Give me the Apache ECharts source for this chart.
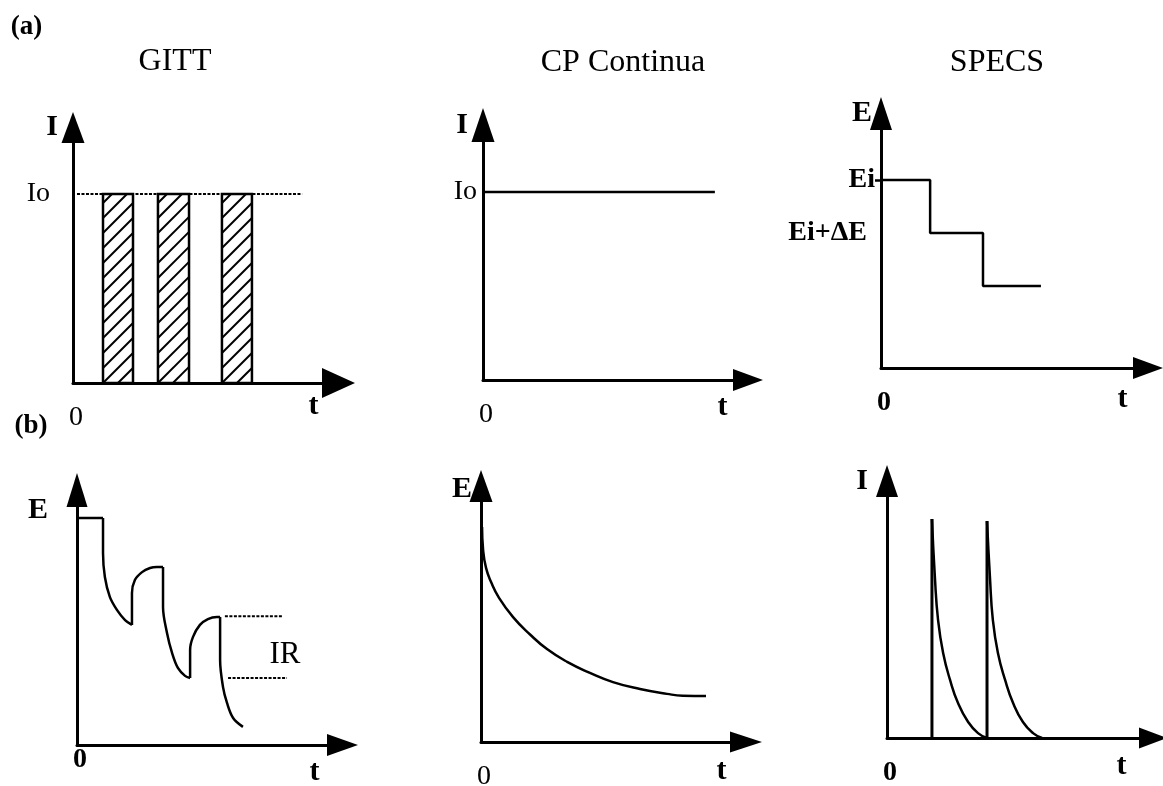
<!DOCTYPE html>
<html>
<head>
<meta charset="utf-8">
<script src="https://cdn.jsdelivr.net/npm/echarts@6/dist/echarts.min.js"></script>
<style>
  html, body { margin: 0; padding: 0; background: #fff; }
  #chart { width: 1163px; height: 786px; }
</style>
</head>
<body>
<div id="chart"></div>
<script>
// ---- Data (arbitrary time / signal units, every panel spans 0..10 on both axes) ----

// GITT (a): current pulses of amplitude Io
const gittPulseStart = [1.13, 3.20, 5.61];
const gittPulseEnd   = [2.26, 4.37, 6.74];
const gittIo = 7.40;
const gittIoGuide = [0.15, 8.63];

// CP continua (a): constant current Io
const cpIo = 7.37;
const cpIoSpan = [0, 8.75];

// SPECS (a): potential staircase Ei, Ei+dE, ...
const specsStepT = [0, 1.84, 3.82, 5.99];
const specsStepE = [7.39, 5.30, 3.22, 3.22];

// GITT (b): potential response, piece by piece
const gittRest0  = [[0, 8.90], [0.98, 8.90]];
const gittPulse1 = [[0.98, 8.90], [0.98, 7.53], [1.05, 6.59], [1.24, 5.80], [1.51, 5.29], [1.81, 4.90], [2.07, 4.71]];
const gittRelax1 = [[2.07, 4.71], [2.07, 5.96], [2.18, 6.47], [2.45, 6.78], [2.75, 6.94], [3.01, 6.98], [3.24, 6.98]];
const gittPulse2 = [[3.24, 6.98], [3.24, 5.41], [3.39, 4.39], [3.58, 3.61], [3.80, 3.02], [4.07, 2.71], [4.26, 2.63]];
const gittRelax2 = [[4.26, 2.63], [4.26, 3.73], [4.37, 4.24], [4.63, 4.71], [4.93, 4.94], [5.27, 5.02], [5.39, 5.02]];
const gittPulse3 = [[5.39, 5.02], [5.39, 3.33], [5.50, 2.27], [5.65, 1.65], [5.88, 1.06], [6.25, 0.71]];
const irUpper = [[5.57, 5.05], [7.76, 5.05]];
const irLower = [[5.69, 2.63], [7.91, 2.63]];
const irLabelAt = [7.83, 3.53];

// CP continua (b): potential decay
const cpE = [[0.04, 8.40], [0.08, 7.50], [0.19, 6.80], [0.38, 6.25], [0.68, 5.63], [1.21, 4.88],
             [1.85, 4.20], [2.49, 3.63], [3.25, 3.13], [4.11, 2.70], [4.98, 2.34], [6.00, 2.07],
             [7.02, 1.88], [7.62, 1.81], [8.49, 1.80]];

// SPECS (b): current spikes and their decays
const specsSpikeT = [1.69, 3.76];
const specsSpikePeak = [8.52, 8.44];
const specsDecay1 = [[1.69, 8.52], [1.80, 6.26], [1.92, 4.59], [2.11, 3.31], [2.37, 2.26], [2.67, 1.36], [3.05, 0.62], [3.42, 0.19], [3.76, 0]];
const specsDecay2 = [[3.76, 8.44], [3.87, 6.26], [3.98, 4.59], [4.17, 3.31], [4.44, 2.26], [4.74, 1.36], [5.11, 0.62], [5.49, 0.19], [5.83, 0]];

// Text
const titles = ['GITT', 'CP Continua', 'SPECS'];
const rowTags = ['(a)', '(b)'];
const yNames = ['I', 'I', 'E', 'E', 'E', 'I'];
const xName = 't';
const originLabel = '0';

// ---- Layout ----
const FONT = '"Liberation Serif", "Times New Roman", serif';
const INK = '#000';

const layout = [
  { left: 73,  top: 127.5, width: 265.5, height: 255.5, xs: [30, 33], ys: [23, 31], tGap: -25,   tPad: 47, namePad: [0, 15],  zeroMargin: 20.5, zeroWeight: 'normal' },
  { left: 483, top: 125,   width: 265,   height: 255,   xs: [22, 30], ys: [23, 34], tGap: -25.5, tPad: 55, namePad: [0, 15],  zeroMargin: 21,   zeroWeight: 'normal' },
  { left: 881, top: 113.5, width: 267,   height: 254.5, xs: [22, 30], ys: [22, 33], tGap: -25.5, tPad: 62, namePad: [0, 9],   zeroMargin: 21,   zeroWeight: 'bold' },
  { left: 77,  top: 490,   width: 265.5, height: 255,   xs: [22, 31], ys: [21, 34], tGap: -28,   tPad: 55, namePad: [40, 29], zeroMargin: 1,    zeroWeight: 'bold' },
  { left: 481, top: 486,   width: 265,   height: 256,   xs: [21, 32], ys: [23, 32], tGap: -24.5, tPad: 59, namePad: [6, 9],   zeroMargin: 21,   zeroWeight: 'normal' },
  { left: 887, top: 481,   width: 266,   height: 257,   xs: [21, 28], ys: [22, 32], tGap: -31.5, tPad: 56, namePad: [0, 19],  zeroMargin: 21,   zeroWeight: 'bold' }
];

// level labels on the potential / current axes
const levelLabels = [
  { values: [gittIo], texts: ['Io'], margin: 23, weight: 'normal' },
  { values: [cpIo], texts: ['Io'], margin: 6, weight: 'normal' },
  { values: [specsStepE[0], specsStepE[1]], texts: ['Ei', '{w|Ei+ΔE}'], margin: 6, weight: 'bold' },
  null, null, null
];

const nameFont = { color: INK, fontFamily: FONT, fontSize: 30, fontWeight: 'bold' };

const grids = layout.map(p => ({
  left: p.left, top: p.top, width: p.width, height: p.height,
  containLabel: false, outerBoundsMode: 'none'
}));

const xAxes = layout.map((p, i) => ({
  type: 'value', gridIndex: i, min: 0, max: 10,
  axisLine: { show: true, onZero: false, symbol: ['none', 'triangle'], symbolSize: p.xs,
              lineStyle: { color: INK, width: 3 } },
  axisTick: { show: false },
  splitLine: { show: false },
  axisLabel: {
    show: true, customValues: [0], margin: p.zeroMargin,
    formatter: v => (v === 0 ? originLabel : ''),
    color: INK, fontFamily: FONT, fontSize: 28, fontWeight: p.zeroWeight,
    padding: [0, 0, 0, 6]
  },
  name: '{n|' + xName + '}', nameLocation: 'end', nameGap: p.tGap, nameMoveOverlap: false,
  nameTextStyle: Object.assign({ align: 'center', verticalAlign: 'middle',
    rich: { n: Object.assign({ padding: [p.tPad, 0, 0, 0] }, nameFont) } }, nameFont)
}));

const yAxes = layout.map((p, i) => {
  const lv = levelLabels[i];
  return {
    type: 'value', gridIndex: i, min: 0, max: 10,
    axisLine: { show: true, onZero: false, symbol: ['none', 'triangle'], symbolSize: p.ys,
                lineStyle: { color: INK, width: 3 } },
    axisTick: i === 2
      ? { show: true, customValues: [specsStepE[0]], length: 6, lineStyle: { color: INK, width: 2.5 } }
      : { show: false },
    splitLine: { show: false },
    axisLabel: lv ? {
      show: true, customValues: lv.values, margin: lv.margin,
      formatter: v => {
        const k = lv.values.findIndex(x => Math.abs(x - v) < 1e-6);
        return k >= 0 ? lv.texts[k] : '';
      },
      color: INK, fontFamily: FONT, fontSize: 28, fontWeight: lv.weight,
      rich: { w: { fontFamily: FONT, fontSize: 28, fontWeight: 'bold', color: INK, padding: [0, 8, 0, 0] } }
    } : { show: false },
    name: '{n|' + yNames[i] + '}', nameLocation: 'end', nameGap: 0, nameMoveOverlap: false,
    nameTextStyle: Object.assign({ align: 'right', verticalAlign: 'middle',
      rich: { n: Object.assign({ padding: [p.namePad[0], p.namePad[1], 0, 0] }, nameFont) } }, nameFont)
  };
});

function line(panel, data, extra) {
  return Object.assign({
    type: 'line', xAxisIndex: panel, yAxisIndex: panel, data,
    showSymbol: false, symbol: 'none', clip: false, silent: true,
    lineStyle: { color: INK, width: 2.5 }
  }, extra || {});
}
const smooth = { smooth: 0.5 };
const dotted = { lineStyle: { color: INK, width: 2, type: [3, 1.5] } };

// hatched pulse rectangles
function hatchedPulse(params, api) {
  const a = api.coord([api.value(0), api.value(2)]);
  const b = api.coord([api.value(1), 0]);
  const x0 = a[0], y0 = a[1], x1 = b[0], y1 = b[1];
  const step = 15;
  const children = [];
  for (let c = x0 + y0 + step * 0.6; c < x1 + y1; c += step) {
    const xa = Math.max(x0, c - y1), xb = Math.min(x1, c - y0);
    if (xb > xa) {
      children.push({ type: 'line', shape: { x1: xa, y1: c - xa, x2: xb, y2: c - xb },
                      style: { stroke: INK, lineWidth: 2 } });
    }
  }
  children.push({ type: 'rect', shape: { x: x0, y: y0, width: x1 - x0, height: y1 - y0 },
                  style: { fill: 'none', stroke: INK, lineWidth: 2.5 } });
  return { type: 'group', children };
}

const series = [
  // GITT (a)
  line(0, [[gittIoGuide[0], gittIo], [gittIoGuide[1], gittIo]], dotted),
  {
    type: 'custom', xAxisIndex: 0, yAxisIndex: 0, silent: true, clip: false,
    data: gittPulseStart.map((s, k) => [s, gittPulseEnd[k], gittIo]),
    encode: { x: [0, 1], y: 2 },
    renderItem: hatchedPulse
  },
  // CP continua (a)
  line(1, [[cpIoSpan[0], cpIo], [cpIoSpan[1], cpIo]]),
  // SPECS (a)
  line(2, specsStepT.map((t, k) => [t, specsStepE[k]]), { step: 'end' }),
  // GITT (b)
  line(3, gittRest0),
  line(3, gittPulse1, { smooth: 0.35 }),
  line(3, gittRelax1, { smooth: 0.35 }),
  line(3, gittPulse2, { smooth: 0.35 }),
  line(3, gittRelax2, { smooth: 0.35 }),
  line(3, gittPulse3, { smooth: 0.35 }),
  line(3, irUpper, dotted),
  line(3, irLower, dotted),
  {
    type: 'scatter', xAxisIndex: 3, yAxisIndex: 3, silent: true, clip: false,
    data: [irLabelAt], symbolSize: 1, itemStyle: { color: 'transparent', opacity: 1 },
    label: { show: true, position: 'inside', formatter: 'IR', color: INK, opacity: 1,
             fontFamily: FONT, fontSize: 31 }
  },
  // CP continua (b)
  line(4, cpE, smooth),
  // SPECS (b)
  line(5, [[specsSpikeT[0], 0], [specsSpikeT[0], specsSpikePeak[0]]], { lineStyle: { color: INK, width: 3 } }),
  line(5, [[specsSpikeT[1], 0], [specsSpikeT[1], specsSpikePeak[1]]], { lineStyle: { color: INK, width: 3 } }),
  line(5, specsDecay1, smooth),
  line(5, specsDecay2, smooth)
];

const textStyleBase = { fill: INK, fontFamily: FONT, align: 'center', verticalAlign: 'middle' };
const graphic = [
  { type: 'text', x: 175, y: 62,  style: Object.assign({ text: titles[0], fontSize: 32 }, textStyleBase) },
  { type: 'text', x: 623, y: 63,  style: Object.assign({ text: titles[1], fontSize: 32 }, textStyleBase) },
  { type: 'text', x: 997, y: 63,  style: Object.assign({ text: titles[2], fontSize: 32 }, textStyleBase) },
  { type: 'text', x: 26.5, y: 27, style: Object.assign({ text: rowTags[0], fontSize: 27, fontWeight: 'bold' }, textStyleBase) },
  { type: 'text', x: 31, y: 426,  style: Object.assign({ text: rowTags[1], fontSize: 27, fontWeight: 'bold' }, textStyleBase) }
];

const chart = echarts.init(document.getElementById('chart'), null, { renderer: 'canvas' });
chart.setOption({
  backgroundColor: '#fff',
  animation: false,
  grid: grids,
  xAxis: xAxes,
  yAxis: yAxes,
  series,
  graphic
});
</script>
</body>
</html>
